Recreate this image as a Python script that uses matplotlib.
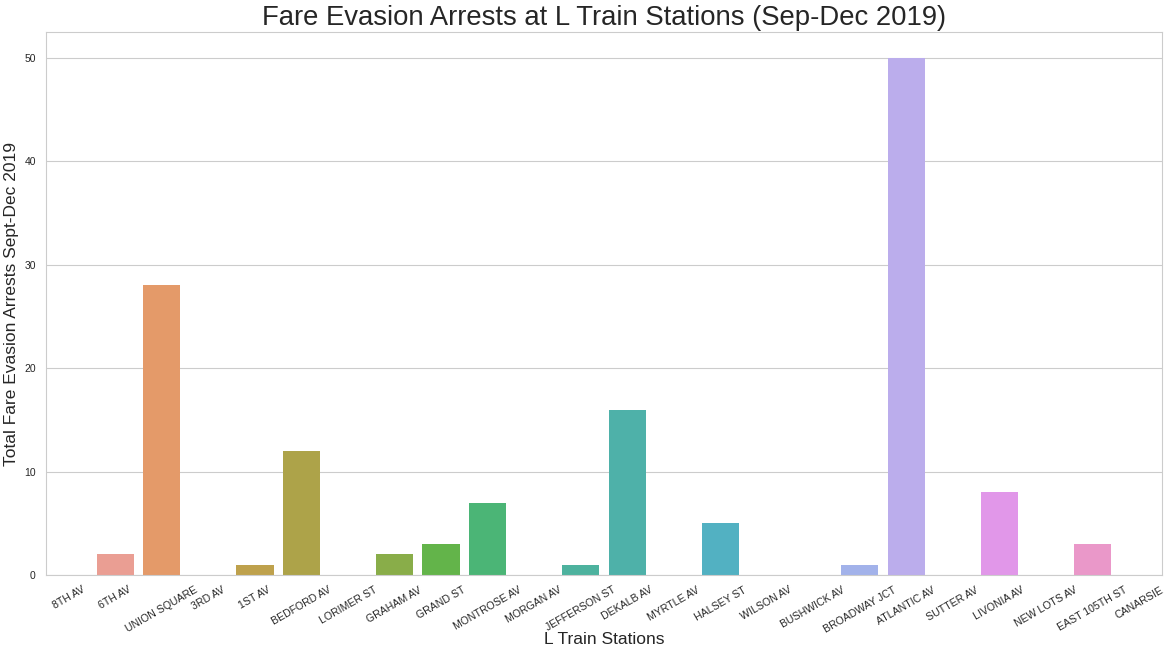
import matplotlib
matplotlib.use("Agg")
import matplotlib.pyplot as plt
import seaborn as sns
import pandas as pd

# Stations along the L line and arrest counts
stations = ["8TH AV", "6TH AV", "UNION SQUARE", "3RD AV", "1ST AV", "BEDFORD AV",
            "LORIMER ST", "GRAHAM AV", "GRAND ST", "MONTROSE AV", "MORGAN AV",
            "JEFFERSON ST", "DEKALB AV", "MYRTLE AV", "HALSEY ST", "WILSON AV",
            "BUSHWICK AV", "BROADWAY JCT", "ATLANTIC AV", "SUTTER AV", "LIVONIA AV",
            "NEW LOTS AV", "EAST 105TH ST", "CANARSIE"]
arrests = [0, 2, 28, 0, 1, 12, 0, 2, 3, 7, 0, 1, 16, 0, 5, 0, 0, 1, 50, 0, 8, 0, 3, 0]

df = pd.DataFrame({"station": stations, "arrests": arrests})

sns.set_style("whitegrid")
plt.rcParams["font.family"] = ["Liberation Sans", "DejaVu Sans"]

fig = plt.figure(figsize=(11.68, 6.55), dpi=100)
ax = fig.add_axes([0.039, 0.122, 0.956, 0.829])
pal = sns.husl_palette(len(stations), l=0.72)
sns.barplot(data=df, x="station", y="arrests", hue="station",
            palette=pal, legend=False, ax=ax, linewidth=0)

ax.set_title("Fare Evasion Arrests at L Train Stations (Sep-Dec 2019)", fontsize=19.8, pad=5)
ax.set_xlabel("L Train Stations", fontsize=12.5, labelpad=-2)
ax.set_ylabel("Total Fare Evasion Arrests Sept-Dec 2019", fontsize=12.5)
ax.tick_params(axis="x", labelsize=7.6)
ax.tick_params(axis="y", labelsize=7.5)
plt.setp(ax.get_xticklabels(), rotation=30)

fig.savefig("out.png", dpi=100)
